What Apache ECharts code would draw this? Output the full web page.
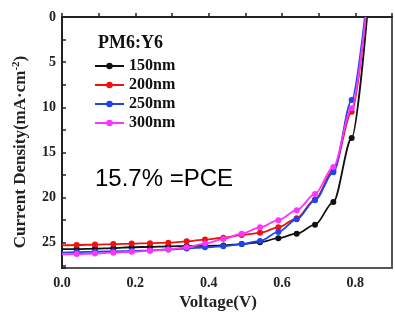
<!DOCTYPE html>
<html>
<head>
<meta charset="utf-8">
<script src="https://cdn.jsdelivr.net/npm/echarts@6/dist/echarts.min.js"></script>
<style>html,body{margin:0;padding:0;background:#fff;}#c{width:395px;height:316px;}</style>
</head>
<body>
<div id="c"></div>
<script>
// Voltage points (V) where markers sit; 0 is the start of each curve
var voltages = [0.00, 0.04, 0.09, 0.14, 0.19, 0.24, 0.29, 0.34, 0.39, 0.44, 0.49, 0.54, 0.59, 0.64, 0.69, 0.74, 0.79];
var seriesNames = ['150nm', '200nm', '250nm', '300nm'];
var seriesColors = ['#111111', '#f01010', '#1f44ee', '#ff33ff'];
// Current density (mA/cm2) per series
var j150 = [25.7, 25.7, 25.65, 25.6, 25.5, 25.45, 25.4, 25.35, 25.35, 25.3, 25.15, 24.95, 24.5, 24.0, 23.0, 20.5, 13.4];
var j200 = [25.3, 25.25, 25.2, 25.15, 25.1, 25.05, 25.0, 24.85, 24.65, 24.45, 24.15, 23.9, 23.3, 22.3, 20.2, 17.0, 10.5];
var j250 = [26.1, 26.05, 26.0, 25.95, 25.9, 25.85, 25.75, 25.65, 25.5, 25.4, 25.15, 24.8, 23.8, 22.4, 20.3, 17.2, 9.2];
var j300 = [26.3, 26.25, 26.2, 26.1, 26.0, 25.9, 25.75, 25.5, 25.1, 24.6, 24.0, 23.3, 22.5, 21.4, 19.6, 16.6, 10.1];
// Open-circuit voltage (J = 0) per series
var vocs = [0.832, 0.828, 0.826, 0.828];
var yTicks = [0, 5, 10, 15, 20, 25];
var xTickLabels = ['0.0', '0.2', '0.4', '0.6', '0.8'];

var allJ = [j150, j200, j250, j300];
var serif = 'Liberation Serif';

function buildData(arr, voc) {
  var d = voltages.map(function (v, i) {
    return { value: [v, arr[i]], symbol: i === 0 ? 'none' : 'circle' };
  });
  d.push({ value: [voc, 0], symbol: 'none' });
  return d;
}

var series = seriesNames.map(function (n, k) {
  return {
    name: n,
    type: 'line',
    data: buildData(allJ[k], vocs[k]),
    smooth: 0.3,
    smoothMonotone: 'x',
    symbol: 'circle',
    symbolSize: 6,
    lineStyle: { color: seriesColors[k], width: 1.8 },
    itemStyle: { color: seriesColors[k], borderWidth: 0 },
    z: 2 + k
  };
});

var chart = echarts.init(document.getElementById('c'), null, { renderer: 'canvas' });
chart.setOption({
  animation: false,
  backgroundColor: '#ffffff',
  grid: { left: 62, top: 17, bottom: 48, right: -4.5, show: true, borderColor: '#555', borderWidth: 2, backgroundColor: 'transparent' },
  xAxis: {
    type: 'value', min: 0, max: 0.9, interval: 0.1,
    axisLine: { show: true, lineStyle: { color: '#222', width: 2 } },
    axisTick: { show: true, inside: true, length: 4, lineStyle: { color: '#222', width: 1.5 } },
    splitLine: { show: false },
    axisLabel: {
      margin: 8, color: '#222', fontFamily: serif, fontWeight: 'bold', fontSize: 14,
      formatter: function (v) {
        var s = v.toFixed(1);
        return xTickLabels.indexOf(s) >= 0 ? s : '';
      }
    }
  },
  yAxis: {
    type: 'value', inverse: true, min: 0, max: 27.8, interval: 2.5,
    axisLine: { show: true, lineStyle: { color: '#222', width: 2 } },
    axisTick: { show: true, inside: true, length: 4, lineStyle: { color: '#222', width: 1.5 } },
    splitLine: { show: false },
    axisLabel: {
      margin: 6, color: '#222', fontFamily: serif, fontWeight: 'bold', fontSize: 14,
      formatter: function (v) {
        return yTicks.indexOf(v) >= 0 ? String(v) : '';
      }
    }
  },
  legend: {
    orient: 'vertical', left: 94, top: 58, padding: 0, itemGap: 3, itemWidth: 29, itemHeight: 8,
    data: seriesNames,
    textStyle: { fontFamily: serif, fontWeight: 'bold', fontSize: 16, lineHeight: 16, color: '#111' }
  },
  graphic: [
    { type: 'text', left: 98, top: 34, style: { text: 'PM6:Y6', font: 'bold 18px "Liberation Serif"', fill: '#111' } },
    { type: 'text', left: 95, top: 167, style: { text: '15.7% =PCE', font: '24px "Liberation Sans"', fill: '#000' } },
    { type: 'text', x: 218, y: 303, style: { text: 'Voltage(V)', font: 'bold 17px "Liberation Serif"', fill: '#222', align: 'center', verticalAlign: 'middle' } },
    {
      type: 'text', x: 21, y: 152, rotation: Math.PI / 2,
      style: {
        text: '{a|Current Density(mA·cm}{s|-2}{a|)}',
        align: 'center', verticalAlign: 'middle', fill: '#222',
        rich: {
          a: { fontFamily: serif, fontWeight: 'bold', fontSize: 17, lineHeight: 20, fill: '#222' },
          s: { fontFamily: serif, fontWeight: 'bold', fontSize: 11, lineHeight: 11, verticalAlign: 'top', fill: '#222' }
        }
      }
    }
  ],
  series: series
});
</script>
</body>
</html>
